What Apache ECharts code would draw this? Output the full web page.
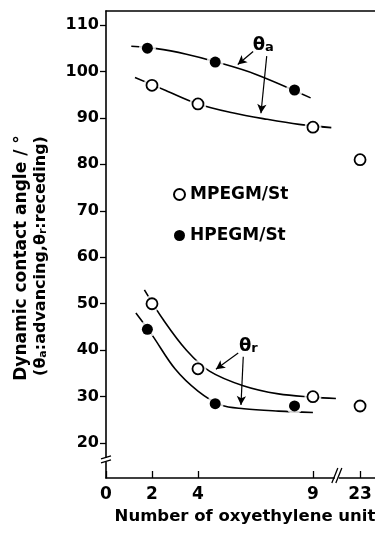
<!DOCTYPE html>
<html>
<head>
<meta charset="utf-8">
<script src="https://cdn.jsdelivr.net/npm/echarts@6/dist/echarts.min.js"></script>
<style>
html, body { margin: 0; padding: 0; background: #fff; }
#chart { width: 375px; height: 534px; }
</style>
</head>
<body>
<div id="chart"></div>
<script>
// x axis is broken between 9 and 23, so 23 sits just past 9
var xTicks = [0, 2, 4, 9, 23];
var xTickPos = [0, 2, 4, 9, 11.05];
var yTicks = [20, 30, 40, 50, 60, 70, 80, 90, 100, 110];

// MPEGM/St (open circles)
var mpegmN = [2, 4, 9, 23];
var mpegmAdv = [97, 93, 88, 81];
var mpegmRec = [50, 36, 30, 28];
// HPEGM/St (filled circles), plotted slightly off the ticks in the original
var hpegmX = [1.8, 4.75, 8.2];
var hpegmAdv = [105, 102, 96];
var hpegmRec = [44.5, 28.5, 28];

// hand drawn guide curves
var curveAdvH = [[1.1, 105.4], [2.2, 104.9], [3.5, 103.7], [4.75, 102.1], [6.5, 99.4], [8.9, 94.3]];
var curveAdvM = [[1.26, 98.7], [2.6, 95.9], [4, 93], [5.5, 91.1], [7, 89.7], [8.4, 88.6], [9.8, 87.9]];
var curveRecM = [[1.67, 53], [2.5, 46.5], [3.5, 40], [4.5, 35.5], [6, 32.3], [7.5, 30.6], [9, 29.9], [10, 29.6]];
var curveRecH = [[1.3, 48], [2, 43.3], [3, 36], [4, 31.2], [5, 28.2], [6, 27.4], [7.5, 26.9], [9, 26.6]];

function pos(n) {
    var i = xTicks.indexOf(n);
    return i >= 0 ? xTickPos[i] : n;
}
function label(p) {
    var i = xTickPos.indexOf(p);
    return i >= 0 ? String(xTicks[i]) : '';
}

var font = 'DejaVu Sans';
var mOpen = mpegmN.map(function (n, i) { return [pos(n), mpegmAdv[i]]; })
    .concat(mpegmN.map(function (n, i) { return [pos(n), mpegmRec[i]]; }));
var hFill = hpegmX.map(function (x, i) { return [x, hpegmAdv[i]]; })
    .concat(hpegmX.map(function (x, i) { return [x, hpegmRec[i]]; }));

function curve(data) {
    return {
        type: 'line', data: data, smooth: 0.35,
        symbol: 'none', silent: true, z: 1,
        lineStyle: { color: '#000', width: 1.6 }
    };
}

var arrowStyle = { color: '#000', width: 1.2, type: 'solid' };
var annot = curve(curveAdvH);
annot.markLine = {
    silent: true, symbol: ['none', 'arrow'], symbolSize: [7, 9],
    lineStyle: arrowStyle, label: { show: false },
    data: [
        [{ coord: [6.40, 104.3] }, { coord: [5.73, 101.5] }],
        [{ coord: [6.99, 103.3] }, { coord: [6.74, 91.0] }],
        [{ coord: [5.75, 39.4] }, { coord: [4.78, 35.9] }],
        [{ coord: [5.97, 38.6] }, { coord: [5.87, 28.2] }]
    ]
};
var thetaRich = {
    t: { fontFamily: font, fontWeight: 'bold', fontSize: 18, color: '#000', verticalAlign: 'bottom' },
    s: { fontFamily: font, fontWeight: 'bold', fontSize: 13, color: '#000', verticalAlign: 'bottom' }
};
annot.markPoint = {
    silent: true, symbol: 'circle', symbolSize: 0,
    label: { show: true, position: 'inside', rich: thetaRich },
    data: [
        { coord: [6.84, 105.7], label: { formatter: '{t|θ}{s|a}' } },
        { coord: [6.19, 40.8], label: { formatter: '{t|θ}{s|r}' } }
    ]
};

var myChart = echarts.init(document.getElementById('chart'));
var option = {
    animation: false,
    grid: { left: 106, right: 0, top: 11, bottom: 56, outerBoundsMode: 'none' },
    legend: {
        orient: 'vertical', left: 168, top: 181, itemGap: 24,
        itemWidth: 11, itemHeight: 11, icon: 'circle',
        data: ['MPEGM/St', 'HPEGM/St'],
        textStyle: { fontFamily: font, fontWeight: 'bold', fontSize: 17, color: '#000' }
    },
    xAxis: [{
        type: 'value', min: 0, max: 11.7,
        axisLine: { lineStyle: { color: '#000', width: 1.6 } },
        axisTick: { inside: true, length: 7, customValues: xTickPos, lineStyle: { color: '#000', width: 1.3 } },
        axisLabel: {
            customValues: xTickPos, formatter: label, margin: 8,
            fontFamily: font, fontWeight: 'bold', fontSize: 17, color: '#000'
        },
        splitLine: { show: false },
        name: 'Number of oxyethylene unit', nameLocation: 'middle', nameGap: 30,
        nameTextStyle: { fontFamily: font, fontWeight: 'bold', fontSize: 16.5, color: '#000', padding: [0, 0, 0, 9] }
    }, {
        type: 'value', position: 'top', min: 0, max: 11.7,
        axisLine: { show: true, lineStyle: { color: '#000', width: 1.6 } },
        axisTick: { show: false }, axisLabel: { show: false }, splitLine: { show: false }
    }],
    yAxis: {
        type: 'value', min: 12.5, max: 113,
        axisLine: { show: true, lineStyle: { color: '#000', width: 1.6 } },
        axisTick: { show: true, length: 6, customValues: yTicks, lineStyle: { color: '#000', width: 1.3 } },
        axisLabel: {
            customValues: yTicks, margin: 7,
            fontFamily: font, fontWeight: 'bold', fontSize: 16, color: '#000'
        },
        splitLine: { show: false }
    },
    series: [
        annot,
        curve(curveAdvM),
        curve(curveRecM),
        curve(curveRecH),
        {
            type: 'scatter', silent: true, z: 2, symbolSize: 17,
            itemStyle: { color: '#fff' },
            data: mOpen.concat(hFill)
        },
        {
            name: 'MPEGM/St', type: 'scatter', z: 3, symbol: 'circle', symbolSize: 11,
            itemStyle: { color: '#fff', borderColor: '#000', borderWidth: 1.8, opacity: 1 },
            data: mOpen
        },
        {
            name: 'HPEGM/St', type: 'scatter', z: 3, symbol: 'circle', symbolSize: 11,
            itemStyle: { color: '#000', opacity: 1 },
            data: hFill
        }
    ]
};
myChart.setOption(option);

// axis break marks and y title
var yb = myChart.convertToPixel({ gridIndex: 0 }, [0, 16.4]);
var xb = myChart.convertToPixel({ gridIndex: 0 }, [10.04, 12.5]);
var ls = { stroke: '#000', lineWidth: 1.3 };
var sub = { fontFamily: font, fontWeight: 'bold', fontSize: 11, color: '#000', verticalAlign: 'bottom' };
myChart.setOption({
    graphic: [
        { type: 'rect', shape: { x: yb[0] - 3, y: yb[1] - 2, width: 6, height: 4 }, style: { fill: '#fff' }, z: 10 },
        { type: 'line', shape: { x1: yb[0] - 5, y1: yb[1] - 1, x2: yb[0] + 5, y2: yb[1] - 4 }, style: ls, z: 11 },
        { type: 'line', shape: { x1: yb[0] - 5, y1: yb[1] + 3, x2: yb[0] + 5, y2: yb[1] }, style: ls, z: 11 },
        { type: 'rect', shape: { x: xb[0] - 2, y: xb[1] - 3, width: 4, height: 6 }, style: { fill: '#fff' }, z: 10 },
        { type: 'line', shape: { x1: xb[0] - 5, y1: xb[1] + 5, x2: xb[0] + 1, y2: xb[1] - 10 }, style: ls, z: 11 },
        { type: 'line', shape: { x1: xb[0] - 1, y1: xb[1] + 5, x2: xb[0] + 5, y2: xb[1] - 10 }, style: ls, z: 11 },
        {
            type: 'text', x: 22, y: 258, rotation: Math.PI / 2, z: 11,
            style: {
                text: 'Dynamic contact angle / °', fill: '#000',
                font: 'bold 17px "DejaVu Sans"', align: 'center', verticalAlign: 'middle'
            }
        },
        {
            type: 'text', x: 41, y: 256, rotation: Math.PI / 2, z: 11,
            style: {
                text: '(θ{s|a}:advancing,θ{s|r}:receding)', fill: '#000',
                font: 'bold 16px "DejaVu Sans"', align: 'center', verticalAlign: 'middle',
                rich: { s: sub }
            }
        }
    ]
});
</script>
</body>
</html>
